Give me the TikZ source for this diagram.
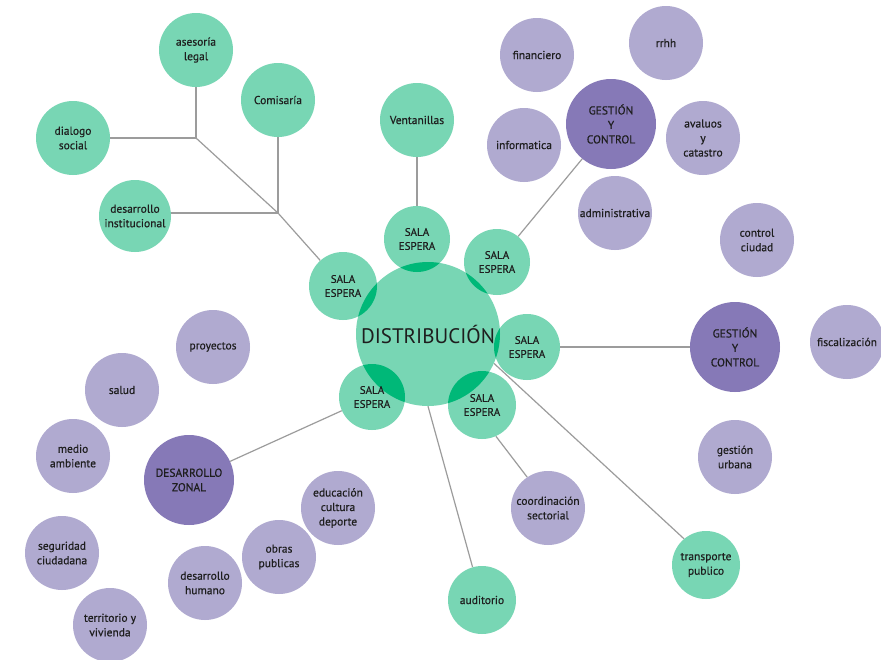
\documentclass[tikz,border=0pt]{standalone}
\usepackage{fontspec}
\setmainfont{PT Sans}
\newfontfamily\medfont{PT Sans}[FakeBold=0.5]
\definecolor{lgreen}{HTML}{78D6B4}
\definecolor{dgreen}{HTML}{00B878}
\definecolor{lpurp}{HTML}{B0AAD0}
\definecolor{dpurp}{HTML}{8679B7}
\definecolor{lnk}{HTML}{9C9C9C}
\definecolor{txt}{HTML}{1E1E1E}
\pgfdeclarelayer{back}
\pgfsetlayers{back,main}
\tikzset{
 bub/.style={circle, inner sep=0pt, align=center, text=txt, font=\medfont\fontsize{11.5}{14.5}\selectfont, minimum size=#1},
 gb/.style={bub=#1, fill=lgreen},
 pb/.style={bub=#1, fill=lpurp},
 db/.style={bub=#1, fill=dpurp},
 sala/.style={gb=66pt, font=\medfont\fontsize{11}{14}\selectfont, path picture={\fill[dgreen] (dist.center) circle[radius=72pt];}},
 lk/.style={draw=lnk, line width=1.2pt},
}
\begin{document}
\begin{tikzpicture}[x=1pt,y=-1pt]
\useasboundingbox (0,0) rectangle (881,659);
% center
\node[gb=144pt, font=\fontsize{21}{24}\selectfont] (dist) at (428,334) {DISTRIBUCIÓN};
\node[sala] (sT) at (417,239) {SALA\\ESPERA};
\node[sala] (sUR) at (497,262) {SALA\\ESPERA};
\node[sala, minimum size=68pt] (sL) at (343,286) {SALA\\ESPERA};
\node[sala] (sR) at (527,347) {SALA\\ESPERA};
\node[sala] (sLL) at (372,397) {SALA\\ESPERA};
\node[sala, minimum size=68pt] (sLR) at (482,405) {SALA\\ESPERA};
% green
\node[gb=74pt] (vent) at (417,120) {Ventanillas};
\node[gb=74pt] (ases) at (196,50) {asesoría\\legal};
\node[gb=74pt] (comi) at (278,100) {Comisaría};
\node[gb=74pt] (dial) at (73,138) {dialogo\\social};
\node[gb=72pt] (desi) at (135,216) {desarrollo\\institucional};
\node[gb=68pt] (transp) at (706,565) {transporte\\publico};
\node[gb=68pt] (audi) at (482,600) {auditorio};
% purple top right
\node[pb=74pt] (fin) at (537,55) {financiero};
\node[pb=74pt] (rrhh) at (666,43) {rrhh};
\node[db=90pt] (gc1) at (611,124) {GESTIÓN\\Y\\CONTROL};
\node[pb=74pt] (info) at (524,145) {informatica};
\node[pb=74pt] (aval) at (703,138) {avaluos\\y\\catastro};
\node[pb=74pt] (admi) at (615,213) {administrativa};
\node[pb=74pt] (ctrl) at (757,240) {control\\ciudad};
\node[db=90pt] (gc2) at (735,347) {GESTIÓN\\Y\\CONTROL};
\node[pb=74pt] (fisc) at (847,342) {fiscalización};
\node[pb=74pt] (gurb) at (735,457) {gestión\\urbana};
\node[pb=74pt] (coord) at (548,508) {coordinación\\sectorial};
% purple bottom left
\node[pb=74pt] (proy) at (213,347) {proyectos};
\node[pb=74pt] (salud) at (122,390) {salud};
\node[pb=74pt] (medio) at (73,456) {medio\\ambiente};
\node[db=90pt] (dz) at (189,480) {DESARROLLO\\ZONAL};
\node[pb=74pt] (educ) at (338,508) {educación\\cultura\\deporte};
\node[pb=74pt] (obras) at (279,557) {obras\\publicas};
\node[pb=74pt] (dhum) at (205,583) {desarrollo\\humano};
\node[pb=74pt] (seg) at (62,553) {seguridad\\ciudadana};
\node[pb=74pt] (terr) at (110,625) {territorio y\\vivienda};
% junctions
\coordinate (j1) at (196,138);
\coordinate (j2) at (278,213);
\begin{pgfonlayer}{back}
\fill[white] (0,0) rectangle (881,659);
\draw[lk] (ases) -- (j1);
\draw[lk] (dial) -- (j1);
\draw[lk] (j1) -- (j2) -- (sL);
\draw[lk] (comi) -- (j2);
\draw[lk] (j2) -- (j2 -| desi.east);
\draw[lk] (vent) -- (sT);
\draw[lk] (gc1) -- (sUR);
\draw[lk] (sR) -- (gc2);
\draw[lk] (dist.-24) -- (transp.130);
\draw[lk] (sLR.-66) -- (coord.124);
\draw[lk] (dist.-90) -- (audi.106);
\draw[lk] (sLL) -- (dz);
\end{pgfonlayer}
\end{tikzpicture}
\end{document}
